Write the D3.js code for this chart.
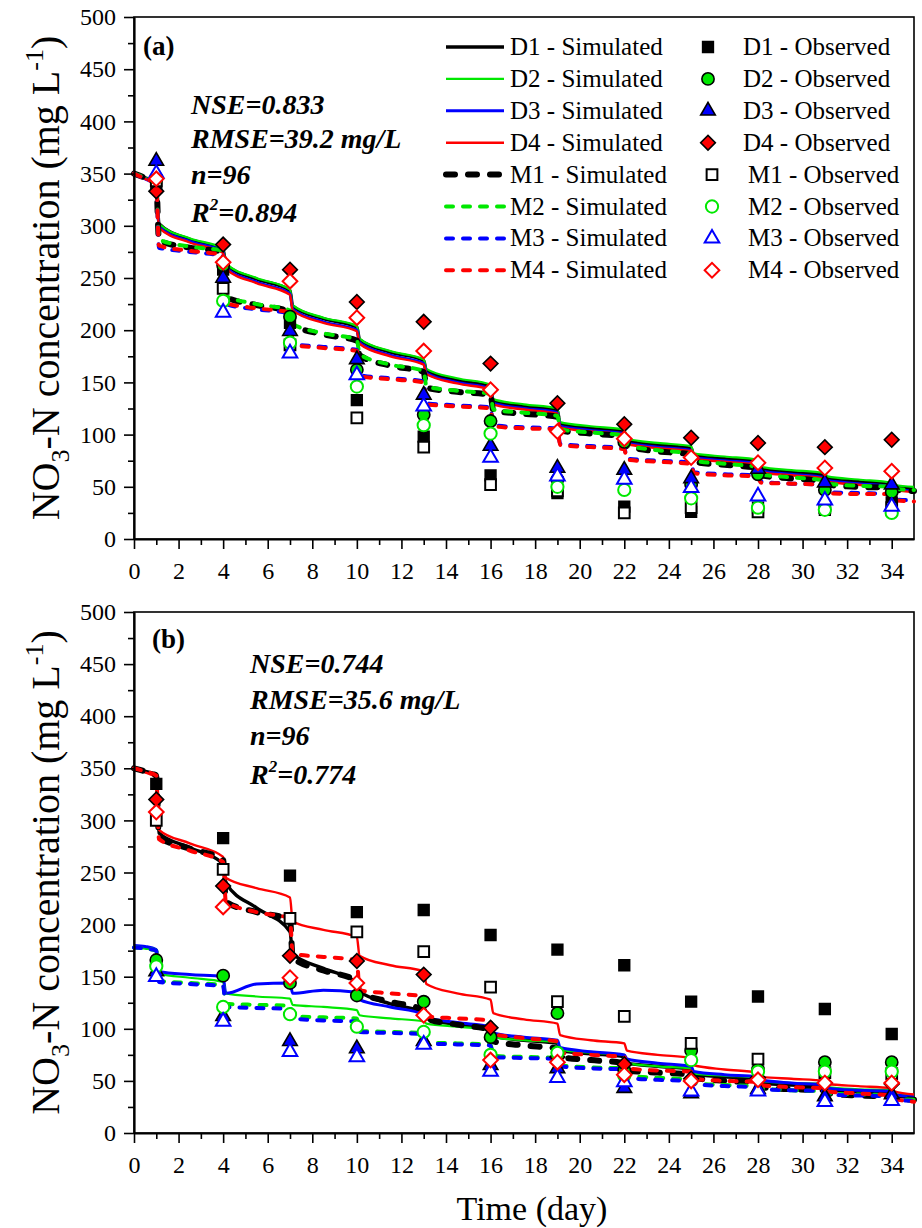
<!DOCTYPE html>
<html>
<head>
<meta charset="utf-8">
<script src="https://cdn.jsdelivr.net/npm/d3@7"></script>
<style>
body { margin: 0; background: #fff; }
text { font-family: "Liberation Serif", "Times New Roman", serif; fill: #000; }
</style>
</head>
<body>
<div id="chart"></div>
<script>
// sampling days of the simulated curves (a short step after each dosing day gives the drop)
var simDays = [0, 0.5, 1, 1.12, 2.5, 4, 4.12, 5.5, 7, 7.12, 8.5, 10, 10.12, 11.5, 13, 13.12, 14.5, 16, 16.12,
    17.5, 19, 19.12, 20.5, 22, 22.12, 23.5, 25, 25.12, 26.5, 28, 28.12, 29.5, 31, 31.12, 32.5, 34, 34.12, 35];
var obsDays = [1, 4, 7, 10, 13, 16, 19, 22, 25, 28, 31, 34];

// panel (a) simulated
var simA_D1 = [350,346,341,302, 287,277,263, 249,238,223, 211,203,191, 179,171,161, 152,146,132, 127,123,110, 106,103,94, 90,87,80, 77,74,67, 64,61,58, 55,52,50, 48];
var simA_D2 = [350,346,341,302, 288,278,264, 250,239,224, 212,204,192, 180,172,163, 154,148,134, 129,125,112, 108,105,96, 92,89,82, 79,76,69, 66,63,60, 57,54,52, 50];
var simA_D3 = [350,345,339,299, 285,275,260, 246,235,220, 208,200,188, 176,168,159, 150,144,130, 125,121,108, 104,101,92, 88,85,78, 75,72,65, 62,59,56, 53,50,48, 46];
var simA_D4 = [350,345,339,298, 284,274,259, 245,234,219, 207,199,187, 175,167,158, 149,143,129, 124,120,107, 103,100,91, 87,84,77, 74,71,64, 61,58,55, 52,49,47, 45];
var simA_M1 = [350,346,341,286, 279,275,232, 224,218,205, 196,190,176, 166,160,145, 141,138,123, 120,117,104, 101,98,89, 84,81,74, 71,68,61, 58,55,52, 50,49,47, 46];
var simA_M2 = [350,346,341,287, 280,276,233, 225,219,206, 197,191,177, 167,161,146, 142,139,124, 121,118,105, 102,99,90, 85,82,75, 72,69,62, 59,56,53, 51,50,48, 47];
var simA_M3 = [350,345,340,279, 275,271,225, 220,216,187, 184,181,157, 154,151,130, 128,126,109, 107,106,91, 89,87,77, 75,73,64, 62,61,55, 53,52,45, 44,43,38, 37];
var simA_M4 = [350,345,340,281, 276,272,226, 221,217,186, 183,180,156, 153,150,129, 127,125,108, 106,105,90, 88,86,76, 74,72,63, 61,60,54, 53,52,44, 43,43,37, 36];

// panel (a) observed
var obsA_D1 = [337, 258, 207, 133, 98, 61, 44, 31, 26, 30, 28, 35];
var obsA_D2 = [345, 262, 213, 162, 119, 113, 57, 93, 52, 62, 47, 45];
var obsA_D3 = [362, 250, 199, 172, 138, 89, 68, 66, 58, 67, 54, 52];
var obsA_D4 = [333, 282, 258, 227, 208, 168, 130, 110, 97, 92, 88, 95];
var obsA_M1 = [343, 240, 186, 116, 88, 52, 46, 25, 30, 26, 30, 30];
var obsA_M2 = [346, 228, 188, 146, 109, 101, 50, 47, 39, 30, 28, 25];
var obsA_M3 = [350, 217, 178, 157, 127, 78, 60, 57, 49, 41, 37, 31];
var obsA_M4 = [345, 265, 247, 212, 180, 143, 103, 96, 78, 73, 68, 65];

// panel (b) simulated
var simB_D1 = [350,347,344,288, 274,258,240, 216,193,172, 158,144,136, 124,116,110, 104,99,93, 89,86,79, 76,73,67, 64,61,56, 54,52,48, 46,45,41, 40,39,36, 34];
var simB_D2 = [178,177,175,153, 149,145,134, 131,129,123, 121,118,113, 110,107,105, 102,99,92, 89,87,80, 77,75,67, 64,62,57, 55,53,50, 48,47,44, 42,41,37, 36];
var simB_D3 = [180,179,176,155, 152,150,134, 143,144,134, 137,135,128, 121,114,111, 106,102,96, 92,89,82, 78,75,71, 67,64,59, 56,54,51, 48,46,43, 41,40,37, 35];
var simB_D4 = [350,346,341,291, 278,265,245, 235,226,203, 195,188,170, 161,155,143, 134,128,115, 109,105,94, 89,86,79, 75,72,65, 61,58,54, 52,50,47, 45,43,40, 37];
var simB_M1 = [350,347,343,284, 273,262,222, 212,205,168, 156,146,135, 126,118,110, 104,99,88, 84,81,73, 70,67,60, 58,56,53, 50,48,44, 42,41,38, 36,35,33, 32];
var simB_M2 = [178,177,175,146, 144,142,124, 123,122,112, 111,110,98, 97,96,87, 86,85,74, 73,72,65, 63,62,55, 53,51,48, 46,45,43, 41,40,38, 37,36,33, 32];
var simB_M3 = [178,177,175,145, 143,141,121, 120,119,110, 108,107,97, 96,95,86, 85,84,73, 72,71,64, 62,61,53, 51,50,47, 45,44,42, 41,40,37, 36,35,32, 31];
var simB_M4 = [350,347,343,282, 271,260,222, 212,206,172, 169,166,137, 134,131,112, 110,108,95, 91,88,77, 75,73,62, 60,59,52, 50,49,46, 44,43,40, 38,36,33, 30];

// panel (b) observed
var obsB_D1 = [335, 283, 247, 212, 214, 190, 176, 161, 126, 131, 119, 95];
var obsB_D2 = [166, 151, 144, 132, 126, 92, 115, 60, 79, 61, 68, 68];
var obsB_D3 = [155, 112, 88, 81, 88, 65, 62, 43, 38, 42, 35, 37];
var obsB_D4 = [320, 237, 170, 165, 152, 101, 73, 66, 52, 53, 48, 47];
var obsB_M1 = [300, 253, 206, 193, 174, 140, 126, 112, 86, 71, 58, 57];
var obsB_M2 = [160, 121, 114, 102, 97, 75, 77, 55, 70, 59, 59, 59];
var obsB_M3 = [150, 107, 78, 73, 85, 59, 53, 49, 40, 40, 30, 31];
var obsB_M4 = [308, 217, 149, 144, 113, 70, 68, 56, 50, 51, 48, 48];

var seriesKeys = ['D1', 'D2', 'D3', 'D4', 'M1', 'M2', 'M3', 'M4'];
var statsA = ['NSE=0.833', 'RMSE=39.2 mg/L', 'n=96', '0.894'];
var statsB = ['NSE=0.744', 'RMSE=35.6 mg/L', 'n=96', '0.774'];

var GREEN = '#00e800';
var simStyles = {
    D1: { color: '#000', width: 3.4, dash: null },
    D2: { color: GREEN, width: 2.2, dash: null },
    D3: { color: '#0000ff', width: 3, dash: null },
    D4: { color: '#ff0000', width: 2.4, dash: null },
    M1: { color: '#000', width: 6, dash: '9,13' },
    M2: { color: GREEN, width: 4, dash: '7,10' },
    M3: { color: '#0000ff', width: 4, dash: '7,10' },
    M4: { color: '#ff0000', width: 4, dash: '7,10' }
};
var obsStyles = {
    D1: { shape: 'square', fill: '#000', stroke: '#000' },
    D2: { shape: 'circle', fill: GREEN, stroke: '#000' },
    D3: { shape: 'triangle', fill: '#0000ff', stroke: '#000' },
    D4: { shape: 'diamond', fill: '#ff0000', stroke: '#000' },
    M1: { shape: 'square', fill: '#fff', stroke: '#000' },
    M2: { shape: 'circle', fill: '#fff', stroke: GREEN },
    M3: { shape: 'triangle', fill: '#fff', stroke: '#0000ff' },
    M4: { shape: 'diamond', fill: '#fff', stroke: '#ff0000' }
};

var svg = d3.select("#chart")
    .append("svg")
    .attr("width", 922)
    .attr("height", 1228);

var x = d3.scaleLinear().domain([0, 35]).range([134, 914]);
var yA = d3.scaleLinear().domain([0, 500]).range([539, 17]);
var yB = d3.scaleLinear().domain([0, 500]).range([1133, 612]);

const symbolPath = function (shape) {
    if (shape === 'square') return d3.symbol(d3.symbolSquare, 115)();
    if (shape === 'circle') return d3.symbol(d3.symbolCircle, 118)();
    if (shape === 'triangle') return d3.symbol(d3.symbolTriangle, 92)();
    return d3.symbol(d3.symbolSquare, 108)(); // diamond = rotated square
}

const drawMarker = function (g, shape, cx, cy, st) {
    g.append("path")
        .attr("d", symbolPath(shape))
        .attr("transform", "translate(" + cx + "," + cy + ")" + (shape === 'diamond' ? " rotate(45)" : ""))
        .attr("fill", st.fill)
        .attr("stroke", st.stroke)
        .attr("stroke-width", st.fill === '#fff' ? 2 : 1.6);
}

const styleAxis = function (g, size) {
    g.attr("font-family", null);
    g.select(".domain").attr("stroke-width", 2.2);
    g.selectAll(".tick line").attr("stroke-width", 1.6);
    g.selectAll("text").attr("font-size", size);
}

const drawPanel = function (y, sim, obs, tag, tagPos, stats, statsX, statsBase) {
    var g = svg.append("g");

    g.append("rect")
        .attr("x", x(0)).attr("y", y(500))
        .attr("width", x(35) - x(0)).attr("height", y(0) - y(500))
        .attr("fill", "none").attr("stroke", "#000").attr("stroke-width", 1.6);

    var line = d3.line()
        .x(function (d, i) { return x(simDays[i]); })
        .y(function (d) { return y(d); })
        .curve(d3.curveMonotoneX);

    seriesKeys.forEach(k => {
        var st = simStyles[k];
        g.append("path")
            .attr("d", line(sim[k]))
            .attr("fill", "none")
            .attr("stroke", st.color)
            .attr("stroke-width", st.width)
            .attr("stroke-dasharray", st.dash)
            .attr("stroke-linecap", st.dash ? "round" : "butt")
            .attr("stroke-linejoin", "round");
    });

    seriesKeys.forEach(k => {
        var st = obsStyles[k];
        obs[k].forEach((v, i) => drawMarker(g, st.shape, x(obsDays[i]), y(v), st));
    });

    // axes: major ticks with labels, minor ticks without
    var xAxis = g.append("g").attr("transform", "translate(0," + y(0) + ")")
        .call(d3.axisBottom(x).tickValues(d3.range(0, 35, 2)).tickSize(10).tickSizeOuter(0).tickPadding(13));
    styleAxis(xAxis, 24);
    var xMinor = g.append("g").attr("transform", "translate(0," + y(0) + ")")
        .call(d3.axisBottom(x).tickValues(d3.range(1, 35, 2)).tickSize(6).tickFormat(""));
    xMinor.select(".domain").remove();
    styleAxis(xMinor, 24);

    var yAxis = g.append("g").attr("transform", "translate(" + x(0) + ",0)")
        .call(d3.axisLeft(y).tickValues(d3.range(0, 501, 50)).tickSize(10).tickSizeOuter(0).tickPadding(8));
    styleAxis(yAxis, 24);
    var yMinor = g.append("g").attr("transform", "translate(" + x(0) + ",0)")
        .call(d3.axisLeft(y).tickValues(d3.range(25, 500, 50)).tickSize(6).tickFormat(""));
    yMinor.select(".domain").remove();
    styleAxis(yMinor, 24);

    // y title
    var yt = g.append("text")
        .attr("transform", "translate(59," + ((y(0) + y(500)) / 2) + ") rotate(-90)")
        .attr("text-anchor", "middle")
        .attr("font-size", 40);
    yt.append("tspan").text("NO");
    yt.append("tspan").attr("font-size", 26).attr("dy", 10).text("3");
    yt.append("tspan").attr("dy", -10).text("-N concentration (mg L");
    yt.append("tspan").attr("font-size", 26).attr("dy", -16).text("-1");
    yt.append("tspan").attr("dy", 16).text(")");

    g.append("text")
        .attr("x", tagPos[0]).attr("y", tagPos[1])
        .attr("font-size", 27).attr("font-weight", "bold")
        .text(tag);

    stats.forEach((s, i) => {
        var t = g.append("text")
            .attr("x", statsX).attr("y", statsBase[i])
            .attr("font-size", 28).attr("font-weight", "bold").attr("font-style", "italic");
        if (i < 3) {
            t.text(s);
        } else {
            t.append("tspan").text("R");
            t.append("tspan").attr("font-size", 17).attr("dy", -12).text("2");
            t.append("tspan").attr("dy", 12).text("=" + s);
        }
    });
}

drawPanel(yA,
    { D1: simA_D1, D2: simA_D2, D3: simA_D3, D4: simA_D4, M1: simA_M1, M2: simA_M2, M3: simA_M3, M4: simA_M4 },
    { D1: obsA_D1, D2: obsA_D2, D3: obsA_D3, D4: obsA_D4, M1: obsA_M1, M2: obsA_M2, M3: obsA_M3, M4: obsA_M4 },
    "(a)", [143, 55], statsA, 191, [114, 148, 184, 222]);

drawPanel(yB,
    { D1: simB_D1, D2: simB_D2, D3: simB_D3, D4: simB_D4, M1: simB_M1, M2: simB_M2, M3: simB_M3, M4: simB_M4 },
    { D1: obsB_D1, D2: obsB_D2, D3: obsB_D3, D4: obsB_D4, M1: obsB_M1, M2: obsB_M2, M3: obsB_M3, M4: obsB_M4 },
    "(b)", [152, 648], statsB, 250, [673, 709, 745, 784]);

// x title
svg.append("text")
    .attr("x", 532).attr("y", 1220)
    .attr("text-anchor", "middle")
    .attr("font-size", 34)
    .text("Time (day)");

// legend (panel a)
var legend = svg.append("g");
seriesKeys.forEach((k, i) => {
    var base = 55 + i * 31.9;
    var cy = base - 8;
    var st = simStyles[k];
    legend.append("line")
        .attr("x1", 446).attr("x2", 504).attr("y1", cy).attr("y2", cy)
        .attr("stroke", st.color).attr("stroke-width", st.width)
        .attr("stroke-dasharray", st.dash)
        .attr("stroke-linecap", st.dash ? "round" : "butt");
    legend.append("text")
        .attr("x", 510).attr("y", base)
        .attr("font-size", 25)
        .text(k + " - Simulated");
    var isM = k[0] === 'M';
    drawMarker(legend, obsStyles[k].shape, isM ? 712 : 708, cy, obsStyles[k]);
    legend.append("text")
        .attr("x", isM ? 748 : 743).attr("y", base)
        .attr("font-size", 25)
        .text(k + " - Observed");
});
</script>
</body>
</html>
